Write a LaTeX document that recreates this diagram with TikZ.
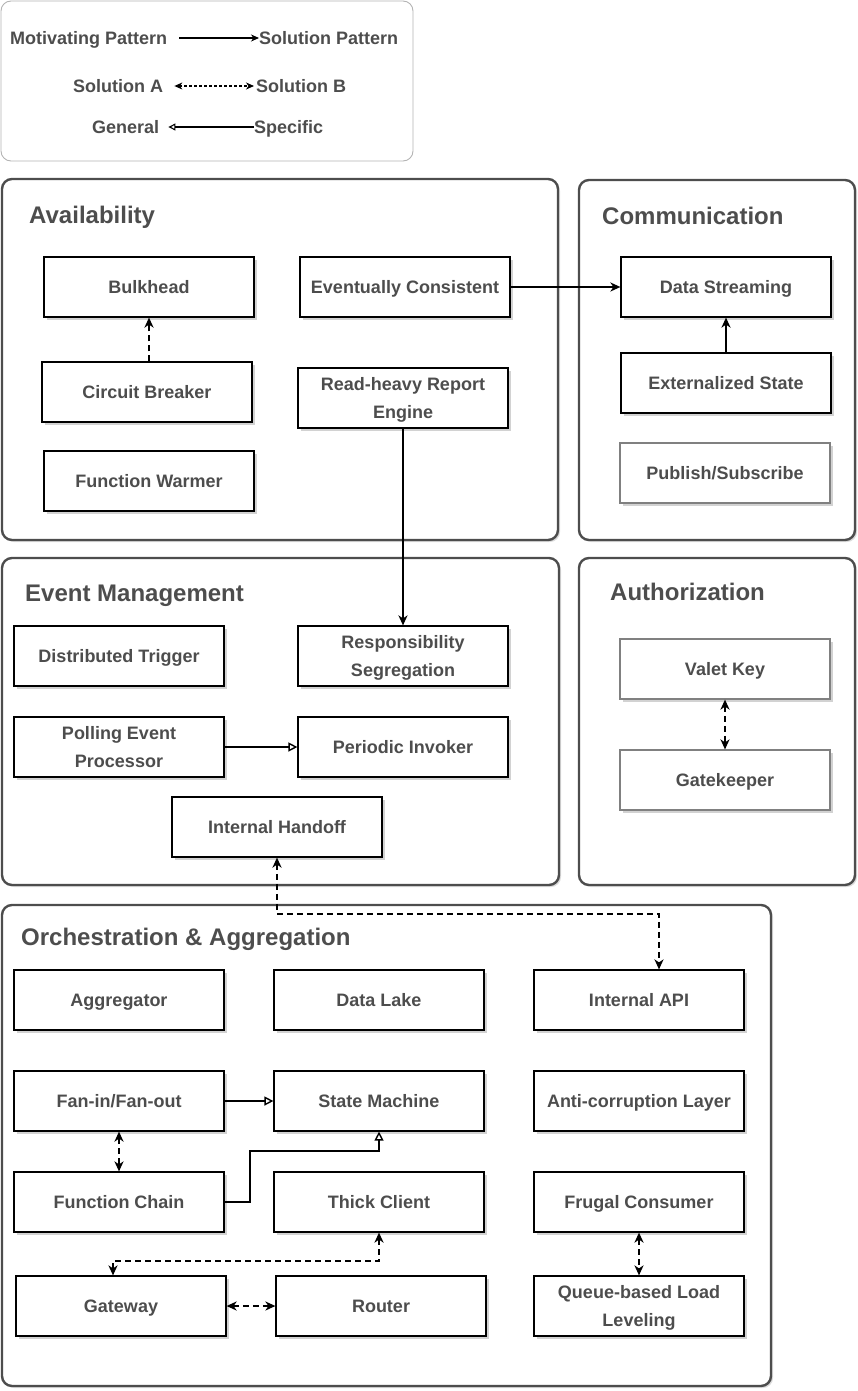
\documentclass[tikz,border=0pt]{standalone}
\usepackage{fontspec}
\setmainfont{Liberation Sans}
\usetikzlibrary{arrows.meta,shadows}

\definecolor{ink}{HTML}{4D4D4D}
\definecolor{rim}{HTML}{4D4D4D}
\definecolor{faint}{HTML}{B3B3B3}
\definecolor{softrim}{HTML}{808080}

\begin{document}
\begin{tikzpicture}[x=1pt,y=-1pt,
    font=\bfseries\fontsize{18}{28.5}\selectfont, text=ink,
    pbox/.style={draw=black, line width=1.2pt, fill=white, minimum width=210pt, minimum height=60pt,
      inner sep=0pt, align=center, text height=13pt, text depth=0pt,
      drop shadow={shadow xshift=3pt, shadow yshift=-3pt, fill=black!25, opacity=.7}},
    twoline/.style={text height=41.5pt, text depth=0pt},
    group/.style={draw=rim, line width=2.4pt, rounded corners=10pt, fill=white,
      drop shadow={shadow xshift=2pt, shadow yshift=-2pt, fill=black!20, opacity=.7}},
    gtitle/.style={anchor=base west, inner sep=0pt, font=\bfseries\fontsize{24}{28}\selectfont},
    lgd/.style={anchor=base west, inner sep=0pt},
    motiv/.style={-{Stealth[length=10pt, width=9pt, inset=3pt]}, line width=1.8pt},
    alts/.style={{Stealth[length=10pt, width=9pt, inset=3pt]}-{Stealth[length=10pt, width=9pt, inset=3pt]},
      line width=1.8pt, dash pattern=on 6pt off 4pt},
    altone/.style={-{Stealth[length=10pt, width=9pt, inset=3pt]}, line width=1.8pt, dash pattern=on 6pt off 4pt},
    inherit/.style={-{Triangle[open, length=9pt, width=9pt, line width=1.4pt]}, line width=1.8pt},
    thinline/.style={line width=1.1pt}]

  \useasboundingbox (0,0) rectangle (858,1391);

  % legend
  \draw[faint, line width=.9pt, rounded corners=10pt] (1,1) rectangle (413,161);
  \node[lgd] (mot)  at (10,44.5)  {Motivating Pattern};
  \node[lgd] (sol)  at (259,44.5) {Solution Pattern};
  \node[lgd] (sa)   at (73,92.5)  {Solution A};
  \node[lgd] (sb)   at (256,92.5) {Solution B};
  \node[lgd] (gen)  at (92,133.5) {General};
  \node[lgd] (spec) at (254,133.5) {Specific};
  \draw[thinline, -{Stealth[length=8pt, width=7pt, inset=2.5pt]}] ([xshift=12pt]mot.east |- 0,38) -- (sol.west |- 0,38);
  \draw[thinline, dash pattern=on 3pt off 2pt, {Stealth[length=8pt, width=7pt, inset=2.5pt]}-{Stealth[length=8pt, width=7pt, inset=2.5pt]}]
    ([xshift=11pt]sa.east |- 0,86) -- ([xshift=-2pt]sb.west |- 0,86);
  \draw[thinline, -{Triangle[open, length=7pt, width=7pt]}] (spec.west |- 0,127) -- ([xshift=9pt]gen.east |- 0,127);

  % groups
  \draw[group] (2,179) rectangle (558,540);
  \draw[group] (579,180) rectangle (855,540);
  \draw[group] (2,558) rectangle (559,885);
  \draw[group] (579,558) rectangle (855,885);
  \draw[group] (2,905) rectangle (771,1386);

  \node[gtitle] (tav) at (29,223)  {Availability};
  \node[gtitle] (tco) at (602,224) {Communication};
  \node[gtitle] (tev) at (25,601)  {Event Management};
  \node[gtitle] (tau) at (610,600) {Authorization};
  \node[gtitle] (tor) at (21,945)  {Orchestration \& Aggregation};

  \begin{scope}[every node/.style={pbox}]
    % availability
    \node (bulk) at (149,287) {Bulkhead};
    \node (ec)   at (405,287) {Eventually Consistent};
    \node (cb)   at (147,392) {Circuit Breaker};
    \node[twoline] (rhr) at (403,398) {Read-heavy Report\\Engine};
    \node (fw)   at (149,481) {Function Warmer};
    % communication
    \node (ds)   at (726,287) {Data Streaming};
    \node (es)   at (726,383) {Externalized State};
    \node[draw=softrim] (ps) at (725,473) {Publish/Subscribe};
    % event management
    \node (dt)   at (119,656) {Distributed Trigger};
    \node[twoline] (rs)  at (403,656) {Responsibility\\Segregation};
    \node[twoline] (pep) at (119,747) {Polling Event\\Processor};
    \node (pi)   at (403,747) {Periodic Invoker};
    \node (ih)   at (277,827) {Internal Handoff};
    % authorization
    \node[draw=softrim] (vk) at (725,669) {Valet Key};
    \node[draw=softrim] (gk) at (725,780) {Gatekeeper};
    % orchestration
    \node (agg)  at (119,1000) {Aggregator};
    \node (dl)   at (379,1000) {Data Lake};
    \node (api)  at (639,1000) {Internal API};
    \node (fan)  at (119,1101) {Fan-in/Fan-out};
    \node (sm)   at (379,1101) {State Machine};
    \node (acl)  at (639,1101) {Anti-corruption Layer};
    \node (fc)   at (119,1202) {Function Chain};
    \node (tc)   at (379,1202) {Thick Client};
    \node (fcon) at (639,1202) {Frugal Consumer};
    \node (gw)   at (121,1306) {Gateway};
    \node (rt)   at (381,1306) {Router};
    \node[twoline] (qbl) at (639,1306) {Queue-based Load\\Leveling};
  \end{scope}

  \begin{scope}[every edge/.style={draw}]
    \path (cb.north -| bulk.south) edge[altone] (bulk.south);
    \path (ec)  edge[motiv] (ds);
    \path (es)  edge[motiv] (ds);
    \path (rhr) edge[motiv] (rs);
    \path (pep) edge[inherit] (pi);
    \path (vk)  edge[alts] (gk);
    \path (fan) edge[inherit] (sm);
    \path (fan) edge[alts] (fc);
    \path (gw)  edge[alts] (rt);
    \path (fcon) edge[alts] (qbl);
  \end{scope}

  \draw[alts] (ih.south) -- ++(0,56) -| ([xshift=20pt]api.north);
  \draw[inherit] (fc.east) -- ++(25,0) |- ([yshift=-19pt]sm.south) -- (sm.south);
  \draw[alts] (tc.south) -- ++(0,28) -| ([xshift=-8pt]gw.north);

\end{tikzpicture}
\end{document}
